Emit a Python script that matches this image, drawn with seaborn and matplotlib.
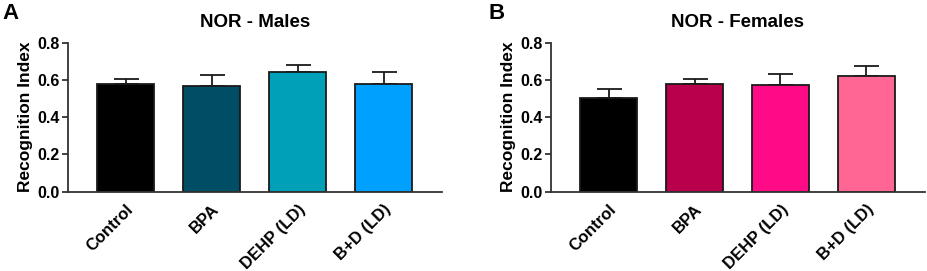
import matplotlib
matplotlib.use("Agg")
import matplotlib.pyplot as plt
import seaborn as sns
import pandas as pd
import numpy as np

categories = ["Control", "BPA", "DEHP (LD)", "B+D (LD)"]
males_mean = [0.577, 0.569, 0.644, 0.577]
males_err = [0.026, 0.056, 0.038, 0.067]
females_mean = [0.503, 0.580, 0.575, 0.621]
females_err = [0.047, 0.025, 0.059, 0.054]
males_colors = ["#000000", "#004d66", "#00a0b8", "#00a0ff"]
females_colors = ["#000000", "#b8004d", "#ff0a87", "#ff6693"]
yticks = [0.0, 0.2, 0.4, 0.6, 0.8]

sns.set_theme(style="ticks")
plt.rcParams['font.family'] = ['Liberation Sans', 'DejaVu Sans']
plt.rcParams['font.weight'] = 'bold'
plt.rcParams['text.color'] = 'black'
plt.rcParams['axes.labelcolor'] = 'black'
plt.rcParams['xtick.labelcolor'] = 'black'
plt.rcParams['ytick.labelcolor'] = 'black'

fig = plt.figure(figsize=(9.27, 2.71), dpi=100)
axA = fig.add_axes([0.0734, 0.2926, 0.4034, 0.5498])
axB = fig.add_axes([0.5947, 0.2926, 0.4028, 0.5498])

panels = [
    (axA, males_mean, males_err, males_colors, "NOR - Males", "A"),
    (axB, females_mean, females_err, females_colors, "NOR - Females", "B"),
]

for ax, means, errs, cols, title, letter in panels:
    df = pd.DataFrame({"group": categories, "value": means})
    sns.barplot(data=df, x="group", y="value", hue="group", palette=cols,
                legend=False, ax=ax, width=0.66, edgecolor="#1a1a1a",
                linewidth=1.3, errorbar=None, saturation=1)
    x = np.arange(len(categories))
    ax.errorbar(x, means, yerr=[np.zeros(len(errs)), errs], fmt="none",
                ecolor="#1a1a1a", elinewidth=1.3, capsize=9, capthick=1.3,
                zorder=0)
    ax.set_xlim(-0.67, 3.68)
    ax.set_ylim(0, 0.8)
    ax.set_yticks(yticks)
    ax.set_yticklabels([f"{t:.1f}" for t in yticks], fontsize=11.5, fontweight="bold")
    ax.set_xticks(x)
    ax.set_xticklabels(categories, rotation=45, ha="right", rotation_mode="anchor",
                       fontsize=12, fontweight="bold")
    ax.tick_params(axis="x", length=0, pad=7)
    ax.tick_params(axis="y", length=4, width=1.3, color="#333333", pad=2)
    ax.set_xlabel("")
    ax.set_ylabel("Recognition Index", fontsize=12.5, fontweight="bold", labelpad=3)
    ax.set_title(title, fontsize=13.5, fontweight="bold", pad=11)
    for s in ["top", "right"]:
        ax.spines[s].set_visible(False)
    for s in ["left", "bottom"]:
        ax.spines[s].set_linewidth(1.3)
        ax.spines[s].set_color("#333333")

fig.text(0.003, 0.99, "A", fontsize=16, fontweight="bold", va="top", ha="left")
fig.text(0.527, 0.99, "B", fontsize=16, fontweight="bold", va="top", ha="left")

fig.savefig("out.png", dpi=100)
